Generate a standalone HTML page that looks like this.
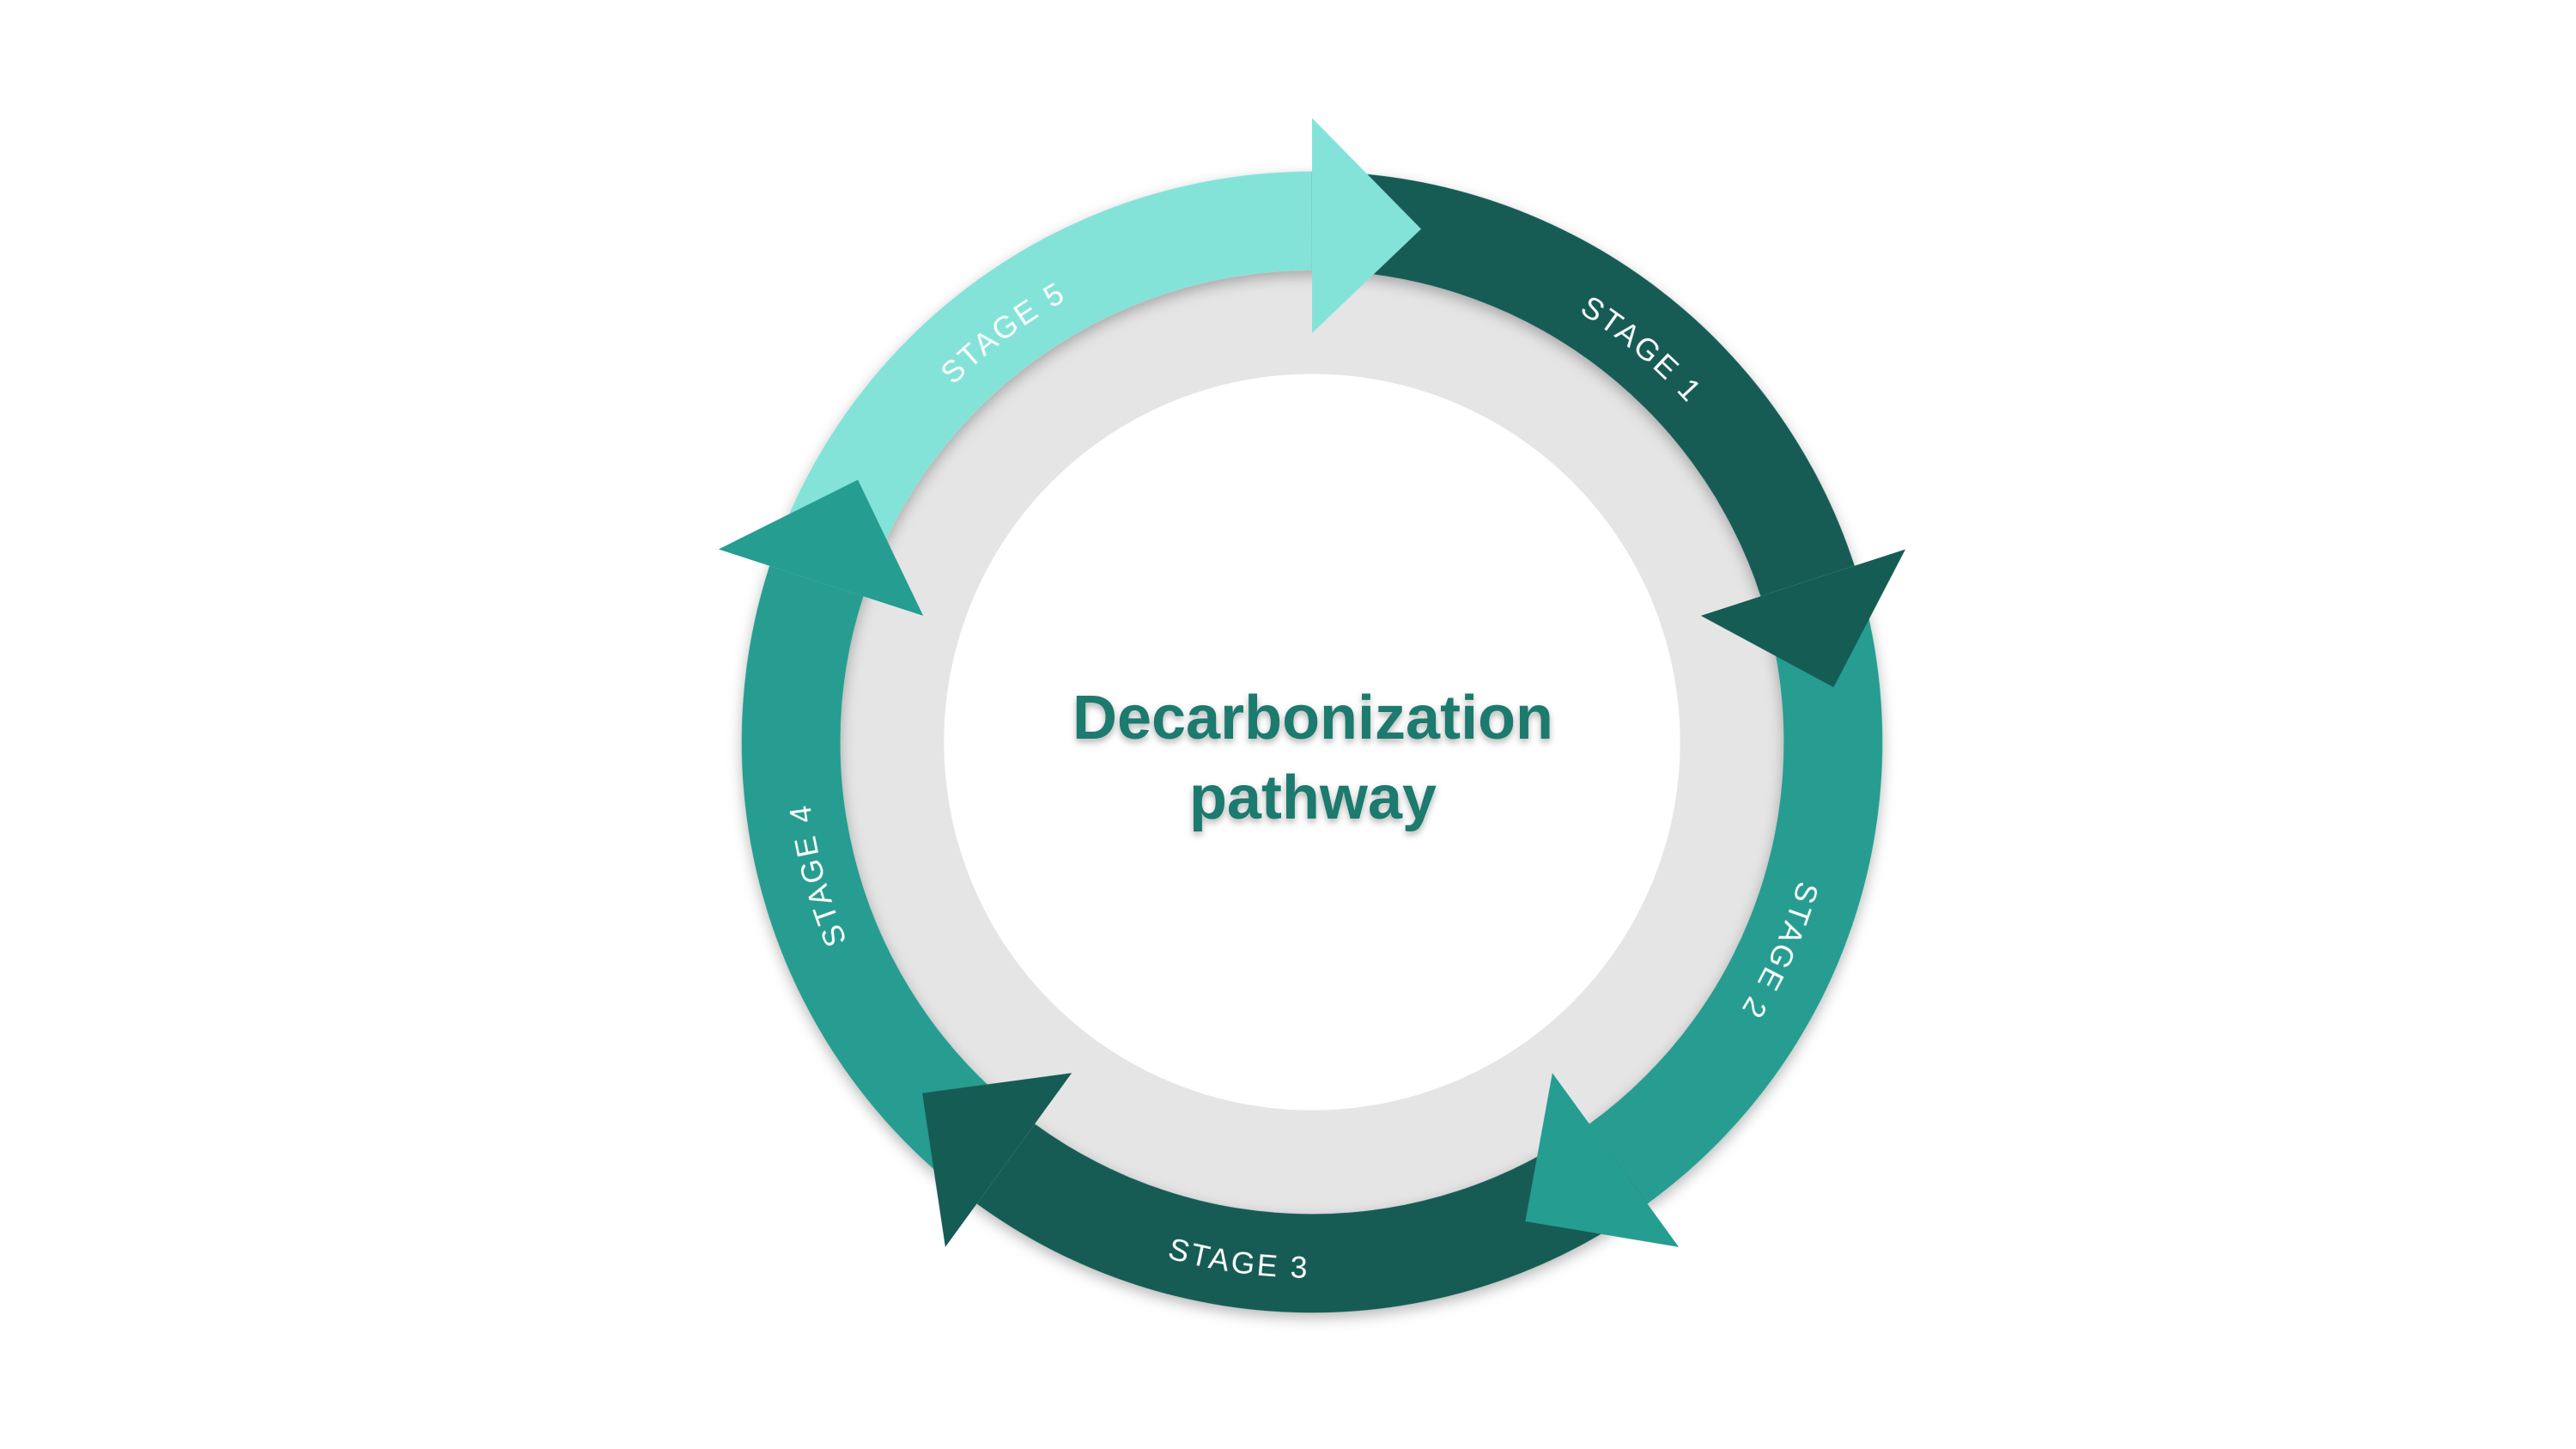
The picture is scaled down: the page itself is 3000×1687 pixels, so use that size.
<!DOCTYPE html>
<html><head><meta charset="utf-8"><style>
html,body{margin:0;padding:0;background:#fff;width:3000px;height:1687px;overflow:hidden;}
svg{display:block;}
</style></head><body>
<svg width="3000" height="1687" viewBox="0 0 3000 1687" xmlns="http://www.w3.org/2000/svg">
<defs>
<filter id="sh" x="-20%" y="-20%" width="140%" height="140%">
<feDropShadow dx="0" dy="6" stdDeviation="8" flood-color="#000" flood-opacity="0.28"/>
</filter>
<filter id="tsh" x="-10%" y="-30%" width="120%" height="160%">
<feDropShadow dx="0" dy="4" stdDeviation="4" flood-color="#000" flood-opacity="0.3"/>
</filter>
<path id="cw" d="M -515.3 -297.5 A 595 595 0 0 1 515.3 -297.5"/>
<path id="ccw" d="M 545.6 -315 A 630 630 0 0 0 -545.6 -315"/>
</defs>
<g transform="translate(1528,864) scale(0.99)">
  <circle r="560" fill="#e5e5e5" filter="url(#sh)"/>
  <circle r="433" fill="#fff"/>
  <g filter="url(#sh)">
    <path transform="rotate(0)" fill="#84e3d9" d="M -638.2 -207.3 A 671 671 0 0 1 0 -671 L 0 -555 A 555 555 0 0 0 -527.8 -171.5 Z"/>
    <path transform="rotate(72)" fill="#155c55" d="M -638.2 -207.3 A 671 671 0 0 1 0 -671 L 0 -555 A 555 555 0 0 0 -527.8 -171.5 Z"/>
    <path transform="rotate(144)" fill="#259d90" d="M -638.2 -207.3 A 671 671 0 0 1 0 -671 L 0 -555 A 555 555 0 0 0 -527.8 -171.5 Z"/>
    <path transform="rotate(216)" fill="#155c55" d="M -638.2 -207.3 A 671 671 0 0 1 0 -671 L 0 -555 A 555 555 0 0 0 -527.8 -171.5 Z"/>
    <path transform="rotate(288)" fill="#259d90" d="M -638.2 -207.3 A 671 671 0 0 1 0 -671 L 0 -555 A 555 555 0 0 0 -527.8 -171.5 Z"/>
  </g>
  <g>
    <polygon transform="rotate(0)" fill="#84e3d9" points="0,-734 128.3,-603.5 0,-481"/>
    <polygon transform="rotate(72)" fill="#155c55" points="0,-734 128.3,-603.5 0,-481"/>
    <polygon transform="rotate(144)" fill="#259d90" points="0,-734 128.3,-603.5 0,-481"/>
    <polygon transform="rotate(216)" fill="#155c55" points="0,-734 128.3,-603.5 0,-481"/>
    <polygon transform="rotate(288)" fill="#259d90" points="0,-734 128.3,-603.5 0,-481"/>
  </g>
  <g font-family="Liberation Sans, sans-serif" font-size="36" fill="#fff" letter-spacing="3">
    <text transform="rotate(40)"><textPath href="#cw" startOffset="50%" text-anchor="middle">STAGE 1</textPath></text>
    <text transform="rotate(114)"><textPath href="#cw" startOffset="50%" text-anchor="middle">STAGE 2</textPath></text>
    <text transform="rotate(188)"><textPath href="#ccw" startOffset="50%" text-anchor="middle">STAGE 3</textPath></text>
    <text transform="rotate(255)"><textPath href="#cw" startOffset="50%" text-anchor="middle">STAGE 4</textPath></text>
    <text transform="rotate(323)"><textPath href="#cw" startOffset="50%" text-anchor="middle">STAGE 5</textPath></text>
  </g>
</g>
<g font-family="Liberation Sans, sans-serif" font-weight="bold" font-size="72" fill="#1f7a6e" text-anchor="middle" filter="url(#tsh)">
  <text x="1529" y="860">Decarbonization</text>
  <text x="1529" y="953">pathway</text>
</g>
</svg>
</body></html>
